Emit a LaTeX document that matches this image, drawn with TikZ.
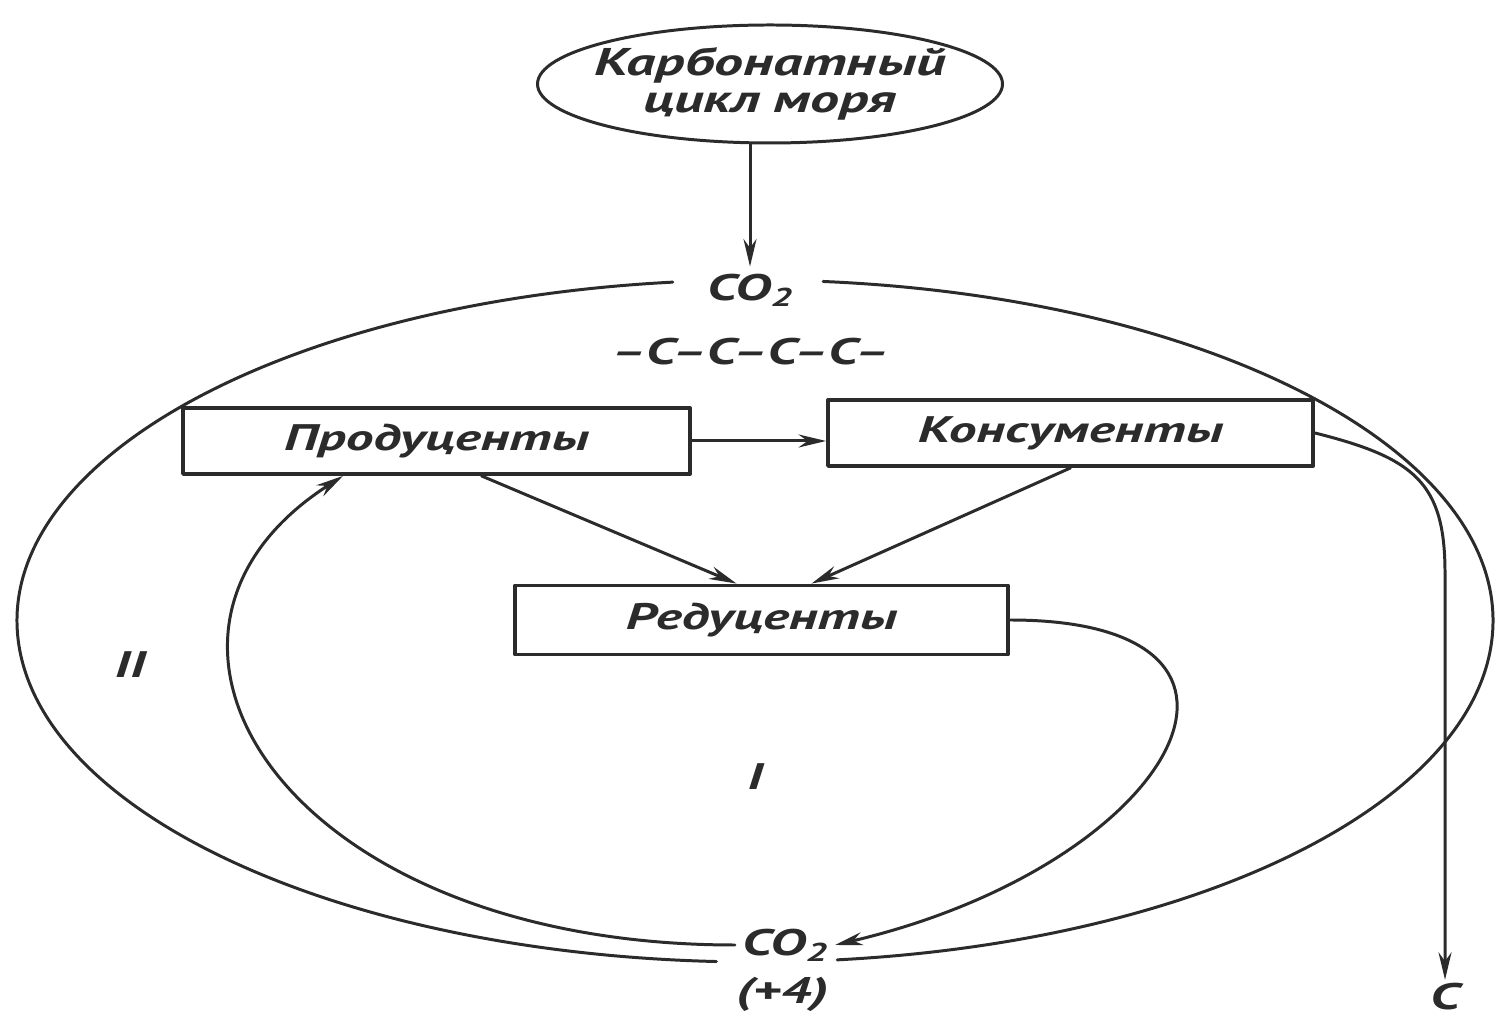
\documentclass[tikz,border=0pt]{standalone}
\usepackage{fontspec}
\setmainfont{PT Sans}[FakeStretch=1.5]
\usetikzlibrary{arrows.meta,shapes.geometric}
\definecolor{ink}{HTML}{2B2B2B}
\begin{document}
\begin{tikzpicture}[>={Stealth[length=5.5mm,width=2.6mm]},line join=round,line cap=round,
	font=\fontsize{21}{22}\selectfont\bfseries\itshape,line width=1.7pt,color=ink,
	blok/.style={draw,line width=2.2pt,minimum height=1.32cm,inner sep=0pt}]
	\useasboundingbox (0,0) rectangle (29.94,20.38);
	\node[draw,ellipse,inner ysep=0pt,inner xsep=-4mm,text width=7.1cm,align=center,minimum width=9.3cm,minimum height=2.36cm,font=\fontsize{22}{21}\selectfont\bfseries\itshape] (karb) at (15.4,18.7) {Карбонатный\\цикл моря};
	\node (co2top) at (15.0,14.58) {CO\textsubscript{2}};
	\node (chain) at (15.0,13.34) {–C–C–C–C–};
	\node[blok,minimum width=10.14cm] (prod) at (8.73,11.56) {Продуценты};
	\node[blok,minimum width=9.7cm] (kons) at (21.41,11.72) {Консументы};
	\node[blok,minimum width=9.86cm,minimum height=1.38cm] (red) at (15.23,7.98) {Редуценты};
	\node (co2bot) at (15.7,1.48) {CO\textsubscript{2}};
	\node (plus) at (15.64,0.5) {(+4)};
	\node[inner sep=1pt] (cout) at (28.9,0.45) {C};
	\node (lII) at (2.6,7.08) {II};
	\node (lI) at (15.1,4.84) {I};
	\coordinate (cbend) at (28.9,8.92);
	% krug II
	\draw (15.1,7.96) ++(96.4:14.76cm and 6.82cm) arc[start angle=96.4,end angle=267,x radius=14.76cm,y radius=6.82cm];
	\draw (15.1,7.96) ++(84.7:14.76cm and 6.82cm) arc[start angle=84.7,end angle=-83.6,x radius=14.76cm,y radius=6.82cm];
	\draw[->] (karb.south -| co2top.north) -- (co2top.north);
	\draw[->] (prod.east) -- (prod.east -| kons.west);
	\draw[->] ([xshift=9mm]prod.south) -- ([xshift=-5mm]red.north);
	\draw[->] (kons.south) -- ([xshift=1cm]red.north);
	% krug I
	\draw[->] (red.east) .. controls +(6,0) and +(6.8,1.6) .. (co2bot.east);
	\draw[->] (co2bot.west) .. controls +(-9,0) and +(-5,-3.2) .. ([xshift=-1.87cm]prod.south);
	\draw[->] (kons.east) .. controls +(2,-0.5) and +(0,1.8) .. (cbend) -- (cbend |- cout.north);
\end{tikzpicture}
\end{document}
